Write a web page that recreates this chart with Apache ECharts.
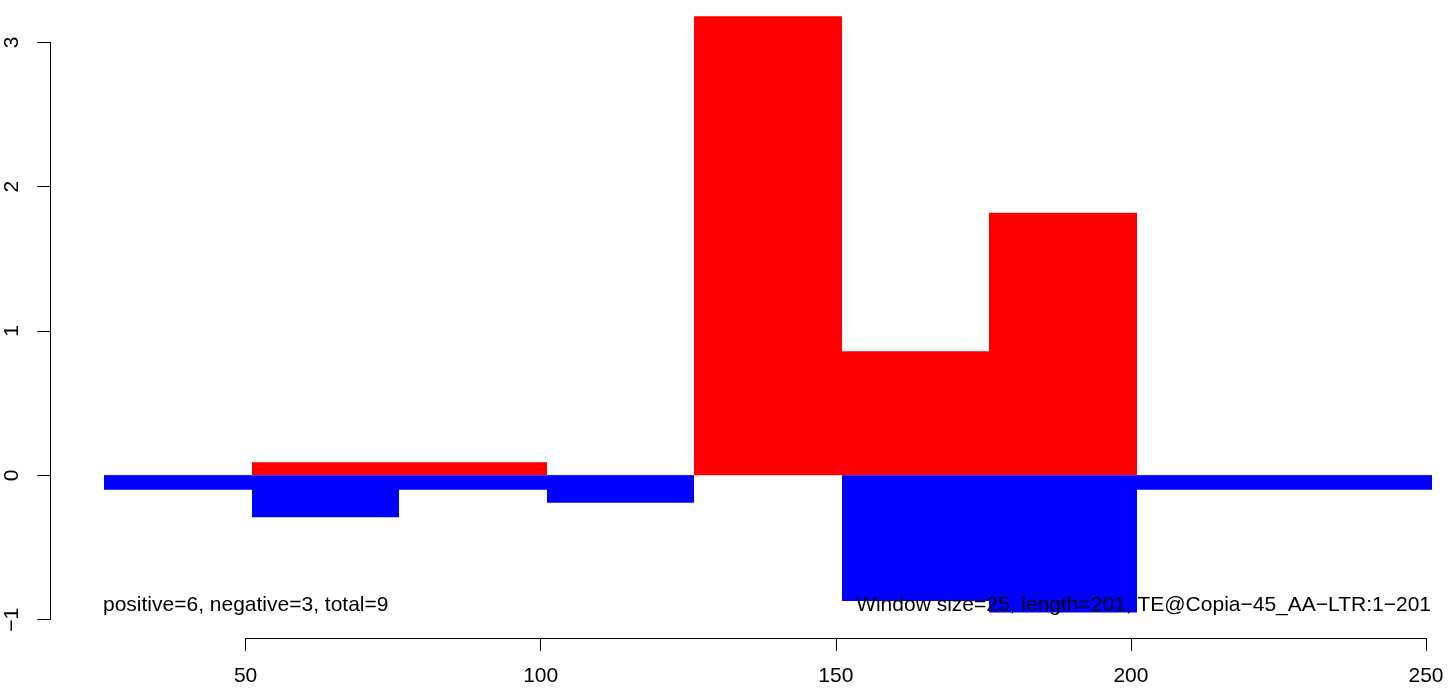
<!DOCTYPE html>
<html>
<head>
<meta charset="utf-8">
<script src="https://cdn.jsdelivr.net/npm/echarts@6/dist/echarts.min.js"></script>
<style>
html,body{margin:0;padding:0;background:#fff;}
#chart{width:1455px;height:689px;}
</style>
</head>
<body>
<div id="chart"></div>
<script>
// Window boundaries (sequence positions)
const windowStart = [26, 51, 76, 101, 126, 151, 176, 201, 226];
const windowEnd   = [51, 76, 101, 126, 151, 176, 201, 226, 251];
// Positive (red) and negative (blue) values per window
const positiveValues = [0, 0.09, 0.09, 0, 3.18, 0.86, 1.82, 0, 0];
const negativeValues = [-0.10, -0.29, -0.10, -0.19, 0, -0.87, -0.95, -0.10, -0.10];
// Axis ticks
const xTicks = [50, 100, 150, 200, 250];
const yTicks = [-1, 0, 1, 2, 3];
// Annotation texts
const leftNote = 'positive=6, negative=3, total=9';
const rightNote = 'Window size=25, length=201, TE@Copia\u221245_AA\u2212LTR:1\u2212201';

const FONT = '"Liberation Sans", Arial, Helvetica, sans-serif';

const posData = windowStart.map((s, i) => [s, windowEnd[i], positiveValues[i]]);
const negData = windowStart.map((s, i) => [s, windowEnd[i], negativeValues[i]]);

function makeRender(fill, zeroLine) {
  return function (params, api) {
    const s = api.value(0), e = api.value(1), v = api.value(2);
    const p0 = api.coord([s, 0]);
    const p1 = api.coord([e, v]);
    const x0 = Math.round(p0[0]), x1 = Math.round(p1[0]);
    const h = Math.abs(p1[1] - p0[1]);
    if (h === 0) {
      if (!zeroLine) return null;
      return {
        type: 'line',
        shape: { x1: x0, y1: p0[1], x2: x1, y2: p0[1] },
        style: { stroke: 'rgba(90,90,90,0.8)', lineWidth: 0.8 }
      };
    }
    return {
      type: 'rect',
      shape: { x: x0, y: Math.min(p0[1], p1[1]), width: x1 - x0, height: h },
      style: { fill: fill }
    };
  };
}

const chart = echarts.init(document.getElementById('chart'), null, { renderer: 'canvas' });

const option = {
  animation: false,
  backgroundColor: '#ffffff',
  grid: { left: 245.6, right: 29, top: 42.3, bottom: 69.3, containLabel: false },
  xAxis: {
    type: 'value',
    min: xTicks[0],
    max: xTicks[xTicks.length - 1],
    interval: 50,
    offset: 18.3,
    splitLine: { show: false },
    axisLine: { show: true, onZero: false, lineStyle: { color: '#000', width: 1 } },
    axisTick: { show: true, length: 13, lineStyle: { color: '#000', width: 1 } },
    axisLabel: { fontSize: 21, color: '#000', fontFamily: FONT, margin: 28,
      formatter: v => String(v).replace('-', '\u2212') }
  },
  yAxis: {
    type: 'value',
    min: yTicks[0],
    max: yTicks[yTicks.length - 1],
    interval: 1,
    offset: 194.9,
    splitLine: { show: false },
    axisLine: { show: true, onZero: false, lineStyle: { color: '#000', width: 1 } },
    axisTick: { show: true, length: 13.5, lineStyle: { color: '#000', width: 1 } },
    axisLabel: { fontSize: 21, color: '#000', fontFamily: FONT, margin: 27.5, rotate: 90,
      formatter: v => String(v).replace('-', '\u2212') }
  },
  series: [
    {
      type: 'custom',
      name: 'positive',
      clip: false,
      renderItem: makeRender('#FF0000', true),
      encode: { x: [0, 1], y: 2 },
      data: posData,
      z: 2
    },
    {
      type: 'custom',
      name: 'negative',
      clip: false,
      renderItem: makeRender('#0000FF', false),
      encode: { x: [0, 1], y: 2 },
      data: negData,
      z: 3
    }
  ],
  graphic: [
    {
      type: 'text', z: 100, x: 103, y: 605,
      style: { text: leftNote, font: '21px ' + FONT, fill: '#000', textAlign: 'left', textVerticalAlign: 'middle' }
    },
    {
      type: 'text', z: 100, x: 1431, y: 605,
      style: { text: rightNote, font: '21px ' + FONT, fill: '#000', textAlign: 'right', textVerticalAlign: 'middle' }
    }
  ]
};

chart.setOption(option);
</script>
</body>
</html>
